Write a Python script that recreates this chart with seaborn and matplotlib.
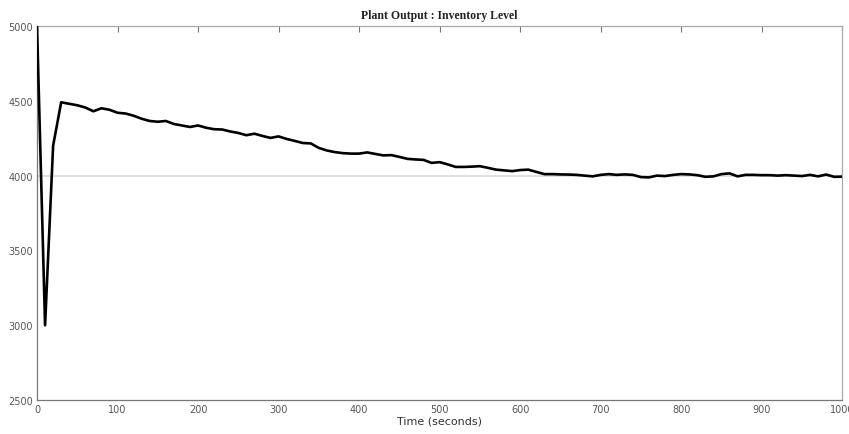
import numpy as np
import pandas as pd
import matplotlib
matplotlib.use('Agg')
import matplotlib.pyplot as plt
import seaborn as sns

time_s = list(range(0, 1001, 10))
inventory = [5000, 3000, 4200, 4490, 4480, 4470, 4455, 4430, 4450, 4440,
             4420, 4415, 4400, 4380, 4365, 4360, 4365, 4345, 4335, 4325,
             4335, 4320, 4310, 4308, 4295, 4285, 4270, 4280, 4265, 4252,
             4262, 4245, 4232, 4218, 4215, 4185, 4168, 4157, 4150, 4147,
             4147, 4155, 4145, 4135, 4137, 4125, 4112, 4108, 4105, 4085,
             4090, 4075, 4058, 4058, 4060, 4063, 4052, 4040, 4035, 4030,
             4037, 4040, 4025, 4010, 4010, 4008, 4007, 4005, 4000, 3995,
             4005, 4010, 4005, 4008, 4005, 3990, 3988, 4000, 3997, 4005,
             4010, 4008, 4003, 3992, 3995, 4010, 4015, 3995, 4005, 4005,
             4003, 4003, 4000, 4003, 4000, 3997, 4005, 3995, 4007, 3992,
             3993]
setpoint = 4000
x_ticks = [0, 100, 200, 300, 400, 500, 600, 700, 800, 900, 1000]
y_ticks = [2500, 3000, 3500, 4000, 4500, 5000]

df = pd.DataFrame({'time': time_s, 'level': inventory})

sns.set_style('white')
fig = plt.figure(figsize=(8.49, 4.35), dpi=100)
ax = fig.add_axes([0.0436, 0.078, 0.9484, 0.860])

ax.axhline(setpoint, color='#d9d9d9', lw=1.2, zorder=1)
sns.lineplot(data=df, x='time', y='level', color='black', lw=1.9, ax=ax, zorder=3)

ax.set_xlim(0, 1000)
ax.set_ylim(2500, 5000)
ax.set_xticks(x_ticks)
ax.set_yticks(y_ticks)
ax.tick_params(axis='x', direction='in', length=4, width=0.8, color='#777777',
               labelcolor='#555555', labelsize=7, top=True, pad=3)
ax.tick_params(axis='y', direction='in', length=2, width=0.8, color='#777777',
               labelcolor='#555555', labelsize=7, right=False, pad=3)
for side in ['left', 'bottom']:
    ax.spines[side].set_color('#777777')
    ax.spines[side].set_linewidth(0.9)
for side in ['top', 'right']:
    ax.spines[side].set_color('#aaaaaa')
    ax.spines[side].set_linewidth(0.9)

ax.set_xlabel('Time (seconds)', fontsize=8, color='#333333', labelpad=1)
ax.set_ylabel('')
ax.set_title('Plant Output : Inventory Level', fontsize=8.5, fontweight='bold',
             family='Liberation Serif', color='#222222', pad=6)

fig.savefig('out.png', dpi=100)
